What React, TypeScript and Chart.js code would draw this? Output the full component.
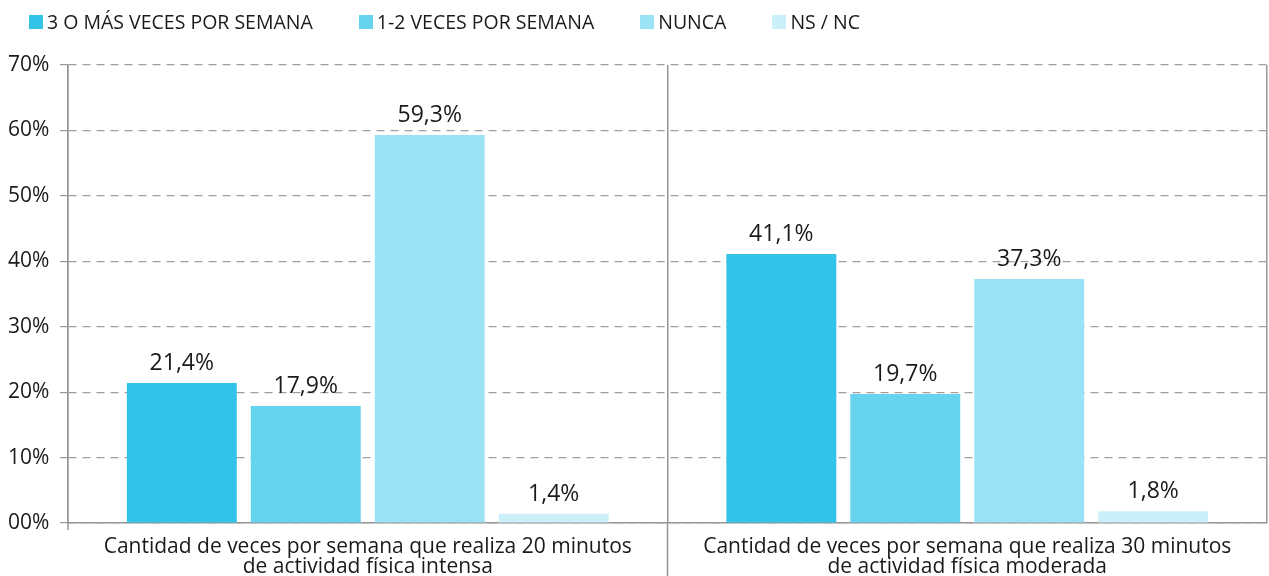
import React, { useEffect, useRef } from 'react';
import { Chart, registerables } from 'chart.js';

Chart.register(...registerables);

// ---- data ----
const categories: string[][] = [
  ['Cantidad de veces por semana que realiza 20 minutos', 'de actividad física intensa'],
  ['Cantidad de veces por semana que realiza 30 minutos', 'de actividad física moderada'],
];
const seriesNames = ['3 O MÁS VECES POR SEMANA', '1-2 VECES POR SEMANA', 'NUNCA', 'NS / NC'];
const tresOMasVeces = [21.4, 41.1];
const unaDosVeces = [17.9, 19.7];
const nunca = [59.3, 37.3];
const nsNc = [1.4, 1.8];
const seriesColors = ['#33c3e8', '#66d3ef', '#9be2f6', '#ccf0fa'];
const yMax = 70;
const yStep = 10;

const FONT = "'Open Sans', sans-serif";
const TEXT = '#1a1a1a';
const LINE = '#969696';

const fmt = (v: number) => v.toFixed(1).replace('.', ',') + '%';

const valueLabels = {
  id: 'valueLabels',
  afterDatasetsDraw(chart: any) {
    const ctx = chart.ctx;
    ctx.save();
    ctx.font = `23px ${FONT}`;
    ctx.fillStyle = TEXT;
    ctx.textAlign = 'center';
    ctx.textBaseline = 'alphabetic';
    chart.data.datasets.forEach((ds: any, i: number) => {
      chart.getDatasetMeta(i).data.forEach((el: any, j: number) => {
        ctx.fillText(fmt(ds.data[j]), el.x, el.y - 13);
      });
    });
    ctx.restore();
  },
};

const separators = {
  id: 'separators',
  afterDraw(chart: any) {
    const { ctx, chartArea, scales } = chart;
    const x = scales.x;
    ctx.save();
    ctx.strokeStyle = LINE;
    ctx.lineWidth = 1.5;
    ctx.beginPath();
    for (let i = 1; i < x.ticks.length; i++) {
      const px = (x.getPixelForTick(i - 1) + x.getPixelForTick(i)) / 2;
      ctx.moveTo(px, chartArea.bottom);
      ctx.lineTo(px, chart.height);
    }
    ctx.moveTo(chartArea.left, chartArea.bottom);
    ctx.lineTo(chartArea.left, chartArea.bottom + 7);
    ctx.stroke();
    ctx.restore();
  },
};

const seriesData = [tresOMasVeces, unaDosVeces, nunca, nsNc];

export default function App() {
  const ref = useRef<HTMLCanvasElement>(null);

  useEffect(() => {
    if (!ref.current) return;
    const chart = new Chart(ref.current, {
      type: 'bar',
      data: {
        labels: categories,
        datasets: seriesNames.map((name, i) => ({
          label: name,
          data: seriesData[i],
          backgroundColor: seriesColors[i],
          borderWidth: 0,
          categoryPercentage: 0.827,
          barPercentage: 0.887,
        })),
      },
      options: {
        responsive: false,
        animation: false,
        layout: { padding: { top: 65, left: 8, right: 2, bottom: 0 } },
        plugins: {
          legend: { display: false },
          tooltip: { enabled: false },
        },
        scales: {
          x: {
            offset: true,
            grid: { display: true, offset: true, color: LINE, lineWidth: 1.5, drawTicks: false },
            border: { display: true, color: LINE, width: 1.5 },
            ticks: {
              color: TEXT,
              padding: 14,
              maxRotation: 0,
              font: { family: FONT, size: 21, lineHeight: 0.95 },
            },
            afterFit: (s: any) => { s.height = 53; },
          },
          y: {
            min: 0,
            max: yMax,
            ticks: {
              stepSize: yStep,
              color: TEXT,
              crossAlign: 'far',
              padding: 4,
              font: { family: FONT, size: 21 },
              callback: (v: any) => (Number(v) === 0 ? '00%' : v + '%'),
            },
            grid: {
              color: '#a0a0a0',
              lineWidth: 1.2,
              tickBorderDash: [],
              tickLength: 8,
              tickColor: LINE,
            } as any,
            border: { display: true, color: LINE, width: 1.5, dash: [8, 6] },
            afterFit: (s: any) => { s.width = 60; },
          },
        },
      },
      plugins: [valueLabels, separators],
    });
    return () => chart.destroy();
  }, []);

  return (
    <div style={{ position: 'absolute', left: 0, top: 0, width: 1269, height: 576, background: '#fff' }}>
      <div
        style={{
          position: 'absolute',
          left: 29,
          top: 8,
          display: 'flex',
          gap: 46,
          fontFamily: FONT,
          fontSize: 19.5,
          color: TEXT,
          whiteSpace: 'nowrap',
        }}
      >
        {seriesNames.map((n, i) => (
          <div key={n}>
            <span
              style={{
                display: 'inline-block',
                width: 14,
                height: 14,
                marginRight: 4,
                background: seriesColors[i],
              }}
            />
            {n}
          </div>
        ))}
      </div>
      <canvas ref={ref} width={1269} height={576} style={{ display: 'block' }} />
    </div>
  );
}
